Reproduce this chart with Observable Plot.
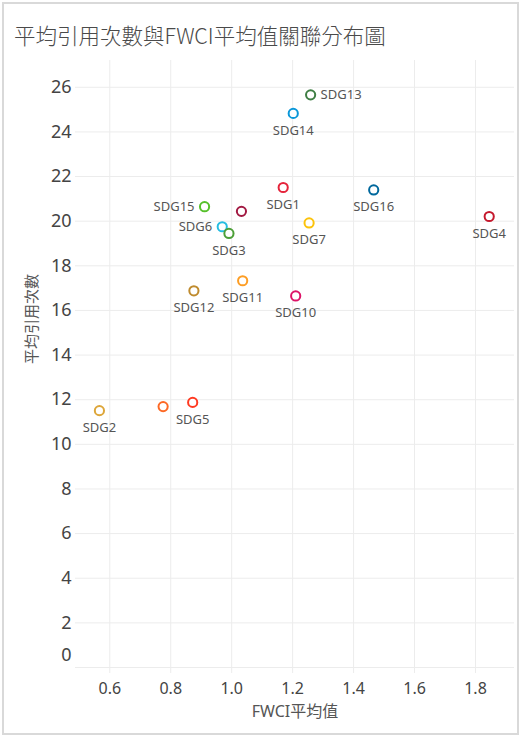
<!DOCTYPE html>
<html>
<head>
<meta charset="utf-8">
<script src="https://cdn.jsdelivr.net/npm/d3@7"></script>
<script src="https://cdn.jsdelivr.net/npm/@observablehq/plot@0.6"></script>
<style>
  body { margin: 0; background: #fff; }
  #wrap { position: relative; width: 524px; height: 737px; overflow: hidden;
          font-family: "Noto Sans", "Noto Sans CJK TC", sans-serif; }
  #frame { position: absolute; left: 2px; top: 2px; width: 517px; height: 733px;
           border: 2px solid #d9d9d9; box-sizing: border-box; pointer-events: none; }
  #title { position: absolute; left: 14px; top: 24px; font-size: 21.5px; line-height: 1; font-weight: 300;
           color: #4a4a4a; font-family: "Noto Sans CJK TC", "Noto Sans", sans-serif; white-space: nowrap; }
  #chart { position: absolute; left: 0; top: 0; }
</style>
</head>
<body>
<div id="wrap">
  <div id="chart"></div>
  <div id="frame"></div>
  <div id="title">平均引用次數與FWCI平均值關聯分布圖</div>
</div>
<script>
// ---- data ----
const sdg       = ["SDG1","SDG2","SDG4","SDG5","SDG6","SDG3","SDG7","SDG8","SDG9","SDG10","SDG11","SDG12","SDG13","SDG14","SDG15","SDG16"];
const fwci      = [1.169, 0.566, 1.845, 0.872, 0.969, 0.991, 1.254, 1.032, 0.775, 1.210, 1.036, 0.876, 1.259, 1.202, 0.911, 1.466];
const citations = [21.51, 11.51, 20.21, 11.88, 19.75, 19.45, 19.92, 20.44, 11.69, 16.65, 17.33, 16.88, 25.66, 24.83, 20.65, 21.40];
const sdgColors = ["#E5243B","#DDA63A","#C5192D","#FF3A21","#26BDE2","#4C9F38","#FCC30B","#A21942","#FD6925","#DD1367","#FD9D24","#BF8B2E","#3F7E44","#0A97D9","#56C02B","#00689D"];
const xTicks = [0.6, 0.8, 1.0, 1.2, 1.4, 1.6, 1.8];
const yTicks = [0, 2, 4, 6, 8, 10, 12, 14, 16, 18, 20, 22, 24, 26];
const xLabel = "FWCI平均值";
const yLabel = "平均引用次數";

// label placement (style)
const labelRight = new Set(["SDG13"]);
const labelLeft = new Set(["SDG15", "SDG6"]);
const unlabeled = new Set(["SDG8", "SDG9"]);

const data = sdg.map((s, i) => ({sdg: s, fwci: fwci[i], cites: citations[i]}));
const below = data.filter(d => !labelRight.has(d.sdg) && !labelLeft.has(d.sdg) && !unlabeled.has(d.sdg));
const right = data.filter(d => labelRight.has(d.sdg));
const left = data.filter(d => labelLeft.has(d.sdg));

const font = "Noto Sans, Noto Sans CJK TC, sans-serif";
const tickColor = "#444";
const gridColor = "#ececec";

const chart = Plot.plot({
  width: 524,
  height: 737,
  marginLeft: 75,
  marginRight: 10,
  marginTop: 60,
  marginBottom: 70,
  style: {fontFamily: font, background: "transparent", overflow: "visible"},
  x: {domain: [0.4875, 1.928]},
  y: {domain: [0, 27.2]},
  color: {domain: sdg, range: sdgColors},
  marks: [
    Plot.gridY(yTicks, {stroke: gridColor, strokeOpacity: 1}),
    Plot.gridX(xTicks, {stroke: gridColor, strokeOpacity: 1}),
    Plot.axisX(xTicks, {tickSize: 6, tickPadding: 9, stroke: gridColor, strokeOpacity: 1, fill: tickColor, fontSize: 16,
      tickFormat: d3.format(".1f"), label: null}),
    Plot.axisY(yTicks.filter(d => d !== 0), {tickSize: 0, tickPadding: 4, fill: tickColor, fontSize: 18, label: null}),
    Plot.text(yTicks.filter(d => d === 0), {y: d => d, text: d => String(d), frameAnchor: "left", dx: -4, dy: -12,
      textAnchor: "end", fill: tickColor, fontSize: 18}),
    Plot.text([xLabel], {frameAnchor: "bottom", dy: 44, fill: "#555", fontSize: 16, lineAnchor: "middle"}),
    Plot.text([yLabel], {frameAnchor: "left", rotate: -90, dx: -43, fill: "#555", fontSize: 15, lineAnchor: "middle"}),
    Plot.dot(data, {x: "fwci", y: "cites", r: 4.6, stroke: "sdg", strokeWidth: 2, fill: "white"}),
    Plot.text(below, {x: "fwci", y: "cites", text: "sdg", dy: 17, fill: "#555", fontSize: 13}),
    Plot.text(right, {x: "fwci", y: "cites", text: "sdg", dx: 10, textAnchor: "start", fill: "#555", fontSize: 13}),
    Plot.text(left, {x: "fwci", y: "cites", text: "sdg", dx: -10, textAnchor: "end", fill: "#555", fontSize: 13})
  ]
});
document.getElementById("chart").appendChild(chart);
</script>
</body>
</html>
